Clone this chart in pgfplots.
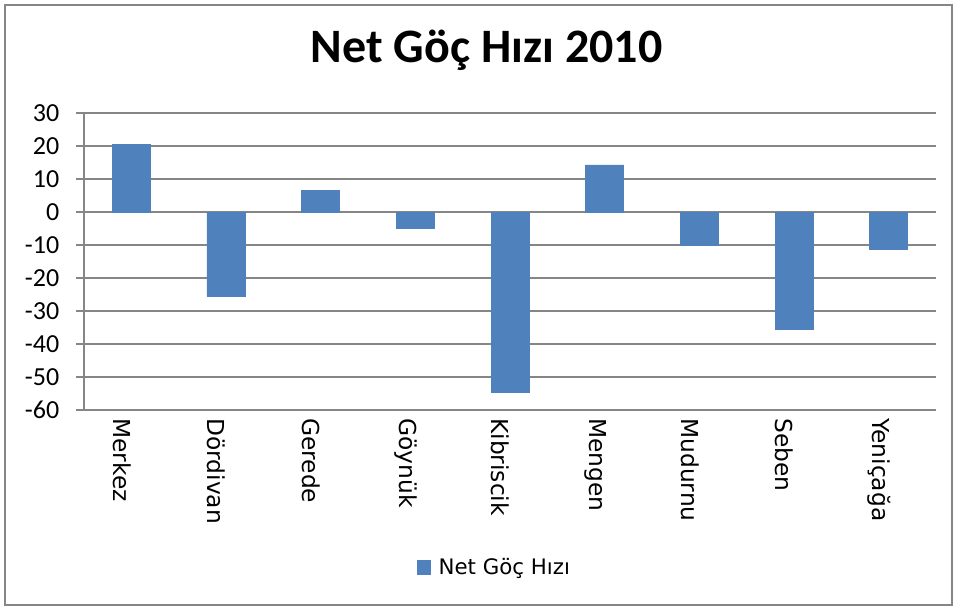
\documentclass[border=0pt]{standalone}
\usepackage{pgfplots}
\pgfplotsset{compat=1.18}
\usepackage{fontspec}
\setmainfont{Carlito}
\newfontfamily\dejavu{DejaVu Sans}
\definecolor{barblue}{HTML}{4F81BD}
\definecolor{gridgray}{HTML}{868686}
\begin{document}
\begin{tikzpicture}
\begin{axis}[
  scale only axis,
  width=639pt, height=222.75pt,
  xmin=-0.5, xmax=8.5,
  ymin=-60, ymax=30,
  ytick={-60,-50,...,30},
  xtick={0,1,...,8},
  xticklabels={Merkez,Dördivan,Gerede,Göynük,Kibriscik,Mengen,Mudurnu,Seben,Yeniçağa},
  x tick label style={font=\dejavu\fontsize{17.5}{20}\selectfont, rotate=-90, anchor=west, inner sep=0pt, yshift=-7pt},
  y tick label style={font=\fontsize{19.5}{22}\selectfont, xshift=-9pt},
  /pgf/number format/assume math mode=true,
  axis x line*=bottom,
  axis y line*=left,
  axis line style={gridgray, line width=1.2pt, -},
  ymajorgrids,
  grid style={gridgray, line width=1.2pt},
  tick style={gridgray, line width=1.2pt},
  tick align=outside,
  major tick length=6pt,
  x tick style={draw=none},
  ybar, bar width=28.5pt,
  legend style={at={(axis description cs:0.482,-0.529)}, anchor=center, draw=none, font=\dejavu\fontsize{16}{19}\selectfont, fill=none},
  legend image code/.code={\fill[barblue] (0pt,-5pt) rectangle (10pt,5pt); \path (14pt,0pt);},
  clip=false,
]
\addplot[fill=barblue, draw=barblue] coordinates {
 (0,20.5) (1,-25.5) (2,6.6) (3,-4.9) (4,-54.6) (5,14.3) (6,-10.0) (7,-35.6) (8,-11.4)
};
\addlegendentry{Net Göç Hızı}
\end{axis}
\node[anchor=base, font=\bfseries\fontsize{36}{40}\selectfont] at ([xshift=302pt, yshift=37.5pt]current axis.north west) {Net Göç Hızı 2010};
\draw[gridgray, line width=1pt] ([shift={(-59.25pt,-146.25pt)}]current axis.south west) rectangle ([shift={(12pt,81pt)}]current axis.north east);
\path ([shift={(-63pt,-150pt)}]current axis.south west) rectangle ([shift={(17.25pt,84.75pt)}]current axis.north east);
\end{tikzpicture}
\end{document}
